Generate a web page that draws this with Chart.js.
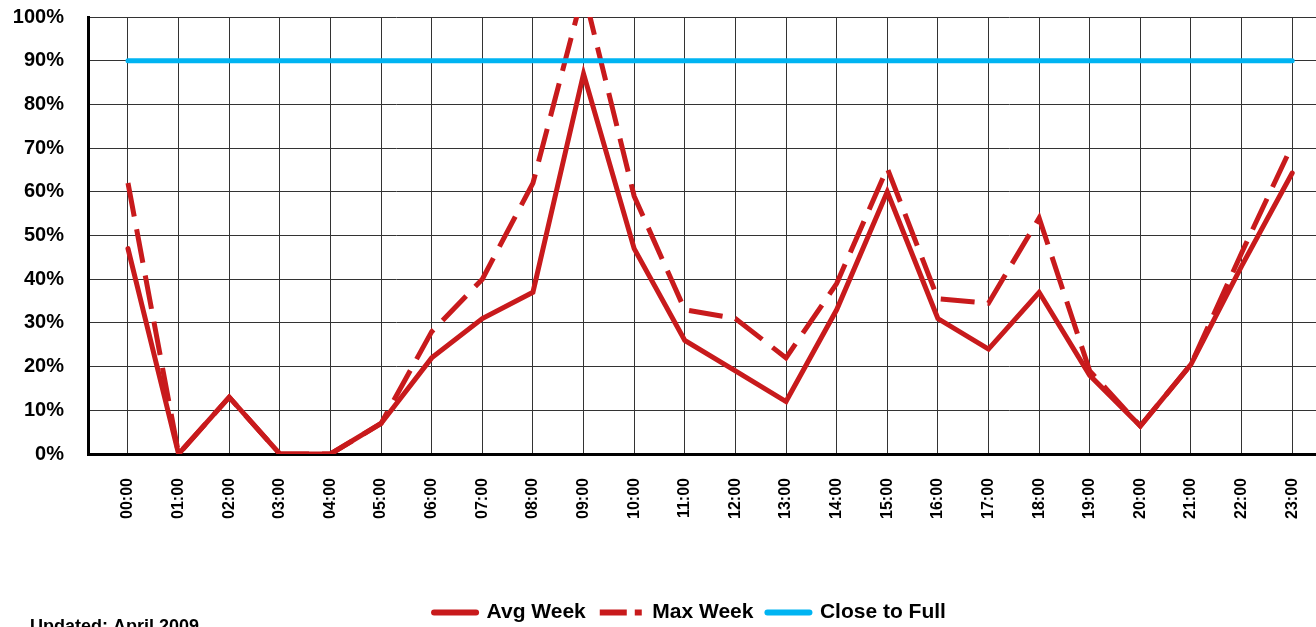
<!DOCTYPE html>
<html>
<head>
<meta charset="utf-8">
<title>Occupancy by hour</title>
<script src="https://cdn.jsdelivr.net/npm/chart.js@4/dist/chart.umd.min.js"></script>
<style>
	body { margin: 0; background: #fff; }
	canvas { display: block; }
</style>
</head>
<body>
<canvas id="hourChart" width="1316" height="627"></canvas>
<script>
const hours = ['00:00','01:00','02:00','03:00','04:00','05:00','06:00','07:00','08:00','09:00','10:00','11:00',
	'12:00','13:00','14:00','15:00','16:00','17:00','18:00','19:00','20:00','21:00','22:00','23:00']
const avgWeek = [47, 0, 13, 0, 0, 7, 22, 31, 37, 87, 47, 26, 19, 12, 33, 60, 31, 24, 37, 18, 6.4, 20.5, 43, 64.3]
const maxWeek = [62, 0, 13, 0, 0, 7, 28, 40, 62, 106, 59, 33, 31, 22, 39, 65.4, 35.5, 34.5, 54, 19, 6.4, 20.5, 46, 70.7]
const closeToFull = [90, 90, 90, 90, 90, 90, 90, 90, 90, 90, 90, 90, 90, 90, 90, 90, 90, 90, 90, 90, 90, 90, 90, 90]

const RED = '#c81a1c'
const BLUE = '#00b4f2'
const FONT = "Arial, 'Liberation Sans', sans-serif"

const toPoints = values => values.map((v, i) => ({x: i, y: v}))

//legend dash per dataset (short so the little tail shows like the original)
const legendDash = [[], [27, 8], []]

//footer note + legend nudged right (the original legend is centred on the plot, not the page)
const footNote = {
	id: 'footNote',
	afterLayout: chart => {
		if (chart.legend) chart.legend.left += 64
	},
	afterDraw: chart => {
		const ctx = chart.ctx
		ctx.save()
		ctx.font = `bold 18px ${FONT}`
		ctx.fillStyle = '#000'
		ctx.textBaseline = 'alphabetic'
		ctx.fillText('Updated: April 2009', 30, 632)
		ctx.restore()
	}
}

document.addEventListener('DOMContentLoaded', () => {
	const canvas = document.getElementById('hourChart')

	new Chart(canvas, {
		type: 'line',
		data: {
			datasets: [{
				label: 'Avg Week',
				data: toPoints(avgWeek),
				borderColor: RED,
				backgroundColor: RED,
				borderWidth: 5,
				borderCapStyle: 'round',
				pointRadius: 0,
				order: 2
			}, {
				label: 'Max Week',
				data: toPoints(maxWeek),
				borderColor: RED,
				backgroundColor: RED,
				borderWidth: 5,
				borderDash: [34, 13],
				pointRadius: 0,
				order: 3
			}, {
				label: 'Close to Full',
				data: toPoints(closeToFull),
				borderColor: BLUE,
				backgroundColor: BLUE,
				borderWidth: 5,
				borderCapStyle: 'round',
				pointRadius: 0,
				order: 1
			}]
		},
		options: {
			responsive: false,
			animation: false,
			layout: {
				padding: {top: 17, right: 0, bottom: -6, left: 0}
			},
			plugins: {
				tooltip: {enabled: false},
				legend: {
					position: 'bottom',
					labels: {
						color: '#000',
						font: {family: FONT, size: 21, weight: 'bold'},
						usePointStyle: true,
						pointStyle: 'line',
						pointStyleWidth: 42,
						boxWidth: 42,
						boxHeight: 5,
						padding: 14,
						generateLabels: chart => chart.data.datasets.map((ds, i) => ({
							text: ds.label,
							datasetIndex: i,
							fillStyle: ds.borderColor,
							strokeStyle: ds.borderColor,
							fontColor: '#000',
							lineWidth: 6,
							lineCap: i == 1 ? 'butt' : 'round',
							lineDash: legendDash[i],
							pointStyle: 'line',
							hidden: false
						}))
					}
				}
			},
			scales: {
				x: {
					type: 'linear',
					min: -0.79,
					max: 23.47,
					afterFit: scale => {
						scale.height = 134
						scale.paddingLeft = 0
						scale.paddingRight = 0
					},
					grid: {color: '#333', lineWidth: 1, drawTicks: false},
					border: {color: '#000', width: 3},
					ticks: {
						stepSize: 1,
						includeBounds: false,
						autoSkip: false,
						minRotation: 90,
						maxRotation: 90,
						padding: 24,
						color: '#000',
						font: {family: FONT, size: 16, weight: 'bold'},
						callback: value => hours[value]
					}
				},
				y: {
					min: 0,
					max: 100,
					afterFit: scale => {
						scale.width = 88
						scale.paddingTop = 0
						scale.paddingBottom = 0
					},
					grid: {color: '#333', lineWidth: 1, drawTicks: false},
					border: {color: '#000', width: 3},
					ticks: {
						stepSize: 10,
						padding: 24,
						color: '#000',
						font: {family: FONT, size: 20, weight: 'bold'},
						callback: value => value + '%'
					}
				}
			}
		},
		plugins: [footNote]
	})
})
</script>
</body>
</html>
